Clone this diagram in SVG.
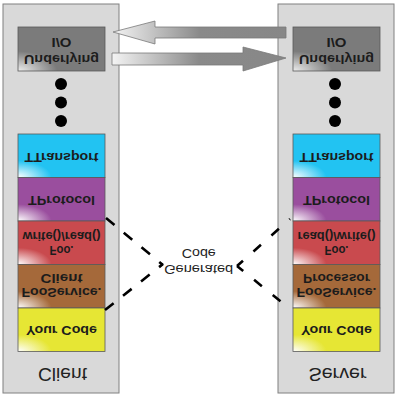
<svg xmlns="http://www.w3.org/2000/svg" width="400" height="400" viewBox="0 0 400 400">
<defs>
<style>
.panel{fill:#d9d9d9;stroke:#808080;stroke-width:1}
.box{stroke:#5a5a5a;stroke-width:0.8}
.lbl{font-family:"Liberation Sans",Arial,sans-serif;font-size:13px;font-weight:bold;fill:#1c1c1c}
.col{font-family:"Liberation Sans",Arial,sans-serif;font-size:17.5px;fill:#222}
.gen{font-family:"Liberation Sans",Arial,sans-serif;font-size:12.5px;fill:#222}
.dot{fill:#000}
.dash{fill:none;stroke:#000;stroke-width:2.6}
.arrow{stroke:#7a7a7a;stroke-width:0.8}
</style>
<radialGradient id="gT" cx="0" cy="1" r="0.7"><stop offset="0" stop-color="#fff"/><stop offset="0.55" stop-color="#22c3f2"/></radialGradient>
<radialGradient id="gP" cx="0" cy="1" r="0.7"><stop offset="0" stop-color="#fff"/><stop offset="0.55" stop-color="#9a4e9e"/></radialGradient>
<radialGradient id="gF" cx="0" cy="1" r="0.7"><stop offset="0" stop-color="#fff"/><stop offset="0.55" stop-color="#c94a4e"/></radialGradient>
<radialGradient id="gS" cx="0" cy="1" r="0.7"><stop offset="0" stop-color="#fff"/><stop offset="0.55" stop-color="#a5693a"/></radialGradient>
<radialGradient id="gY" cx="0" cy="1" r="0.7"><stop offset="0" stop-color="#fff"/><stop offset="0.55" stop-color="#e6e634"/></radialGradient>
<radialGradient id="gI" cx="0" cy="1" r="0.75"><stop offset="0" stop-color="#eee"/><stop offset="0.6" stop-color="#7b7b7b"/></radialGradient>
<linearGradient id="gA" x1="0" y1="0" x2="1" y2="0"><stop offset="0" stop-color="#f4f4f4"/><stop offset="0.5" stop-color="#8a8a8a"/><stop offset="1" stop-color="#878787"/></linearGradient>
</defs>

<g id="client">
<rect class="panel" x="3" y="4" width="116" height="389"/>
<text class="col" transform="translate(62.5,368) scale(1,-1)" x="-24.5" y="0" textLength="49" lengthAdjust="spacingAndGlyphs">Client</text>
</g>
<g id="server">
<rect class="panel" x="278" y="4" width="116" height="389"/>
<text class="col" transform="translate(337.5,368) scale(1,-1)" x="-29" y="0" textLength="58" lengthAdjust="spacingAndGlyphs">Server</text>
</g>

<g id="client-io">
<rect class="box" x="18" y="27" width="87" height="44" fill="url(#gI)"/>
<text class="lbl" transform="translate(61.5,37.5) scale(1,-1)" x="-10" textLength="20" lengthAdjust="spacingAndGlyphs">I/O</text>
<text class="lbl" transform="translate(61.5,55) scale(1,-1)" x="-37.5" textLength="75" lengthAdjust="spacingAndGlyphs">Underlying</text>
</g>
<g id="client-dots">
<circle class="dot" cx="61" cy="84" r="6"/><circle class="dot" cx="61" cy="102.5" r="6"/><circle class="dot" cx="61" cy="121" r="6"/>
</g>
<g id="client-ttransport">
<rect class="box" x="18" y="134" width="87" height="43.5" fill="url(#gT)"/>
<text class="lbl" transform="translate(61.5,152.5) scale(1,-1)" x="-37" textLength="74" lengthAdjust="spacingAndGlyphs">TTransport</text>
</g>
<g id="client-tprotocol">
<rect class="box" x="18" y="177.5" width="87" height="43.5" fill="url(#gP)"/>
<text class="lbl" transform="translate(61.5,195.5) scale(1,-1)" x="-33.5" textLength="67" lengthAdjust="spacingAndGlyphs">TProtocol</text>
</g>
<g id="client-foo">
<rect class="box" x="18" y="221" width="87" height="43.5" fill="url(#gF)"/>
<text class="lbl" transform="translate(61.5,232) scale(1,-1)" x="-39" textLength="78" lengthAdjust="spacingAndGlyphs">write()/read()</text>
<text class="lbl" transform="translate(61.5,245.5) scale(1,-1)" x="-12" textLength="24" lengthAdjust="spacingAndGlyphs">Foo.</text>
</g>
<g id="client-fooservice">
<rect class="box" x="18" y="264.5" width="87" height="43.5" fill="url(#gS)"/>
<text class="lbl" transform="translate(61.5,274) scale(1,-1)" x="-21" textLength="42" lengthAdjust="spacingAndGlyphs">Client</text>
<text class="lbl" transform="translate(61.5,288) scale(1,-1)" x="-40" textLength="80" lengthAdjust="spacingAndGlyphs">FooService.</text>
</g>
<g id="client-yourcode">
<rect class="box" x="18" y="308" width="87" height="43.5" fill="url(#gY)"/>
<text class="lbl" transform="translate(61.5,326) scale(1,-1)" x="-35.5" textLength="71" lengthAdjust="spacingAndGlyphs">Your Code</text>
</g>

<g id="server-io">
<rect class="box" x="293" y="27" width="87" height="44" fill="url(#gI)"/>
<text class="lbl" transform="translate(336.5,37.5) scale(1,-1)" x="-10" textLength="20" lengthAdjust="spacingAndGlyphs">I/O</text>
<text class="lbl" transform="translate(336.5,55) scale(1,-1)" x="-37.5" textLength="75" lengthAdjust="spacingAndGlyphs">Underlying</text>
</g>
<g id="server-dots">
<circle class="dot" cx="335" cy="84" r="6"/><circle class="dot" cx="335" cy="102.5" r="6"/><circle class="dot" cx="335" cy="121" r="6"/>
</g>
<g id="server-ttransport">
<rect class="box" x="293" y="134" width="87" height="43.5" fill="url(#gT)"/>
<text class="lbl" transform="translate(336.5,152.5) scale(1,-1)" x="-37" textLength="74" lengthAdjust="spacingAndGlyphs">TTransport</text>
</g>
<g id="server-tprotocol">
<rect class="box" x="293" y="177.5" width="87" height="43.5" fill="url(#gP)"/>
<text class="lbl" transform="translate(336.5,195.5) scale(1,-1)" x="-33.5" textLength="67" lengthAdjust="spacingAndGlyphs">TProtocol</text>
</g>
<g id="server-foo">
<rect class="box" x="293" y="221" width="87" height="43.5" fill="url(#gF)"/>
<text class="lbl" transform="translate(336.5,232) scale(1,-1)" x="-39" textLength="78" lengthAdjust="spacingAndGlyphs">read()/write()</text>
<text class="lbl" transform="translate(336.5,245.5) scale(1,-1)" x="-12" textLength="24" lengthAdjust="spacingAndGlyphs">Foo.</text>
</g>
<g id="server-fooservice">
<rect class="box" x="293" y="264.5" width="87" height="43.5" fill="url(#gS)"/>
<text class="lbl" transform="translate(336.5,274) scale(1,-1)" x="-33.5" textLength="67" lengthAdjust="spacingAndGlyphs">Processor</text>
<text class="lbl" transform="translate(336.5,288) scale(1,-1)" x="-40" textLength="80" lengthAdjust="spacingAndGlyphs">FooService.</text>
</g>
<g id="server-yourcode">
<rect class="box" x="293" y="308" width="87" height="43.5" fill="url(#gY)"/>
<text class="lbl" transform="translate(336.5,326) scale(1,-1)" x="-35.5" textLength="71" lengthAdjust="spacingAndGlyphs">Your Code</text>
</g>

<g id="generated-code">
<text class="gen" transform="translate(198.7,249) scale(1,-1)" x="-17" textLength="34" lengthAdjust="spacingAndGlyphs">Code</text>
<text class="gen" transform="translate(198.7,265) scale(1,-1)" x="-34.5" textLength="69" lengthAdjust="spacingAndGlyphs">Generated</text>
</g>

<g id="connectors">
<path class="arrow" fill="url(#gA)" d="M113,32 L155,21 L155,27 L286,27 L286,38 L155,38 L155,44 Z"/>
<path class="arrow" fill="url(#gA)" d="M112,53 L243,53 L243,47 L286,58 L243,71 L243,65 L112,65 Z"/>
<path class="dash" d="M106,218 L163,265" stroke-dasharray="11 12"/>
<path class="dash" d="M105,310 L163,264" stroke-dasharray="11 12"/>
<path class="dash" d="M237,266 L290,219" stroke-dasharray="10 14" stroke-dashoffset="2"/>
<path class="dash" d="M237,266 L290,309" stroke-dasharray="10 14" stroke-dashoffset="2"/>
</g>
</svg>
